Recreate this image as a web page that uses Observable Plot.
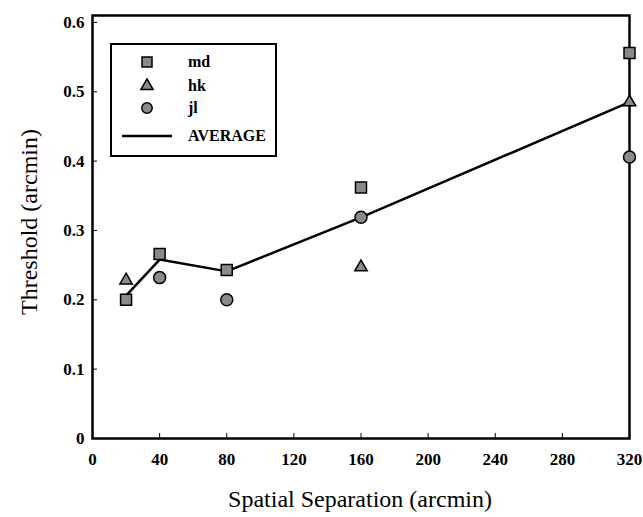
<!DOCTYPE html>
<html>
<head>
<meta charset="utf-8">
<script src="https://cdn.jsdelivr.net/npm/d3@7"></script>
<script src="https://cdn.jsdelivr.net/npm/@observablehq/plot@0.6"></script>
<style>
  html, body { margin: 0; padding: 0; background: #fff; }
  #wrap { position: relative; width: 643px; height: 517px; }
  #chart svg, #chart svg text { font-family: "Liberation Serif", "Times New Roman", serif !important; }
  #chart svg g[aria-label$="tick label"] text { font-size: 17px !important; font-weight: bold !important; }
  #legend {
    position: absolute; left: 110px; top: 43px; width: 167px; height: 114px;
    border: 2px solid #000; box-sizing: border-box; background: #fff;
    font-family: "Liberation Serif", serif; font-weight: bold; font-size: 16px;
  }
  .row { position: absolute; left: 0; height: 20px; }
  .row svg { position: absolute; left: 0; top: 0; }
  .row span { position: absolute; left: 76px; top: 0px; line-height: 20px; white-space: nowrap; }
</style>
</head>
<body>
<div id="wrap">
  <div id="chart"></div>
  <div id="legend"></div>
</div>
<script>
const separations = [20, 40, 80, 160, 320];
const md = [0.200, 0.266, 0.243, 0.362, 0.556];
const hk = [0.228, null, null, 0.247, 0.485];
const jl = [null, 0.232, 0.200, 0.319, 0.406];
const average = [0.206, 0.258, 0.241, 0.319, 0.485];
const xTicks = [0, 40, 80, 120, 160, 200, 240, 280, 320];
const yTicks = [0, 0.1, 0.2, 0.3, 0.4, 0.5, 0.6];
const seriesNames = ["md", "hk", "jl"];

const toRows = (vals, name) => separations
  .map((s, j) => ({sep: s, val: vals[j], name}))
  .filter(d => d.val != null);
const mdRows = toRows(md, "md");
const hkRows = toRows(hk, "hk");
const jlRows = toRows(jl, "jl");
const avgRows = separations.map((s, j) => ({sep: s, val: average[j]}));

const fill = "#8a8a8a";
const font = "Liberation Serif, serif";
const chart = Plot.plot({
  width: 643,
  height: 517,
  marginLeft: 92,
  marginRight: 14,
  marginTop: 15,
  marginBottom: 79,
  style: {fontFamily: font, background: "#fff"},
  x: {domain: [0, 320], ticks: xTicks},
  y: {domain: [0, 0.61], ticks: yTicks},
  marks: [
    Plot.frame({stroke: "#000", strokeWidth: 2.5}),
    Plot.axisX({ticks: xTicks, tickSize: -5, tickPadding: 19, fontSize: 17, fontWeight: "bold", fontFamily: font,
      tickFormat: d => String(d), label: null}),
    Plot.axisY({ticks: yTicks, tickSize: -5, tickPadding: 13, fontSize: 17, fontWeight: "bold", fontFamily: font,
      tickFormat: d => d === 0 ? "0" : d3.format(".1f")(d), label: null}),
    Plot.line(avgRows, {x: "sep", y: "val", stroke: "#000", strokeWidth: 2.5}),
    Plot.dot(mdRows, {x: "sep", y: "val", symbol: "square", r: 6.2, fill, stroke: "#000", strokeWidth: 1.5}),
    Plot.dot(hkRows, {x: "sep", y: "val", symbol: "triangle", r: 4.6, fill, stroke: "#000", strokeWidth: 1.5}),
    Plot.dot(jlRows, {x: "sep", y: "val", symbol: "circle", r: 6, fill, stroke: "#000", strokeWidth: 1.5})
  ]
});
document.getElementById("chart").appendChild(chart);

// axis titles as real SVG text
const ns = "http://www.w3.org/2000/svg";
function addText(txt, x, y, rot) {
  const t = document.createElementNS(ns, "text");
  t.textContent = txt;
  t.setAttribute("text-anchor", "middle");
  t.setAttribute("font-size", "24");
  t.setAttribute("font-family", font);
  t.setAttribute("fill", "#000");
  t.setAttribute("transform", `translate(${x},${y})` + (rot ? ` rotate(${rot})` : ""));
  chart.appendChild(t);
}
addText("Spatial Separation (arcmin)", 360, 507, 0);
addText("Threshold (arcmin)", 37, 222, -90);

// legend
const legend = document.getElementById("legend");
const entries = [
  {label: "md", sym: d3.symbolSquare, area: 100, y: 7},
  {label: "hk", sym: d3.symbolTriangle, area: 65, y: 31},
  {label: "jl", sym: d3.symbolCircle, area: 85, y: 53},
  {label: "AVERAGE", sym: null, y: 81}
];
entries.forEach(e => {
  const row = document.createElement("div");
  row.className = "row";
  row.style.top = e.y + "px";
  row.style.width = "160px";
  let svg = `<svg width="70" height="20">`;
  if (e.sym) {
    svg += `<path transform="translate(35,10)" d="${d3.symbol(e.sym, e.area)()}" fill="${fill}" stroke="#000" stroke-width="1.5"/>`;
  } else {
    svg += `<line x1="10" x2="60" y1="10" y2="10" stroke="#000" stroke-width="2.5"/>`;
  }
  svg += `</svg>`;
  row.innerHTML = svg + `<span>${e.label}</span>`;
  legend.appendChild(row);
});
</script>
</body>
</html>
